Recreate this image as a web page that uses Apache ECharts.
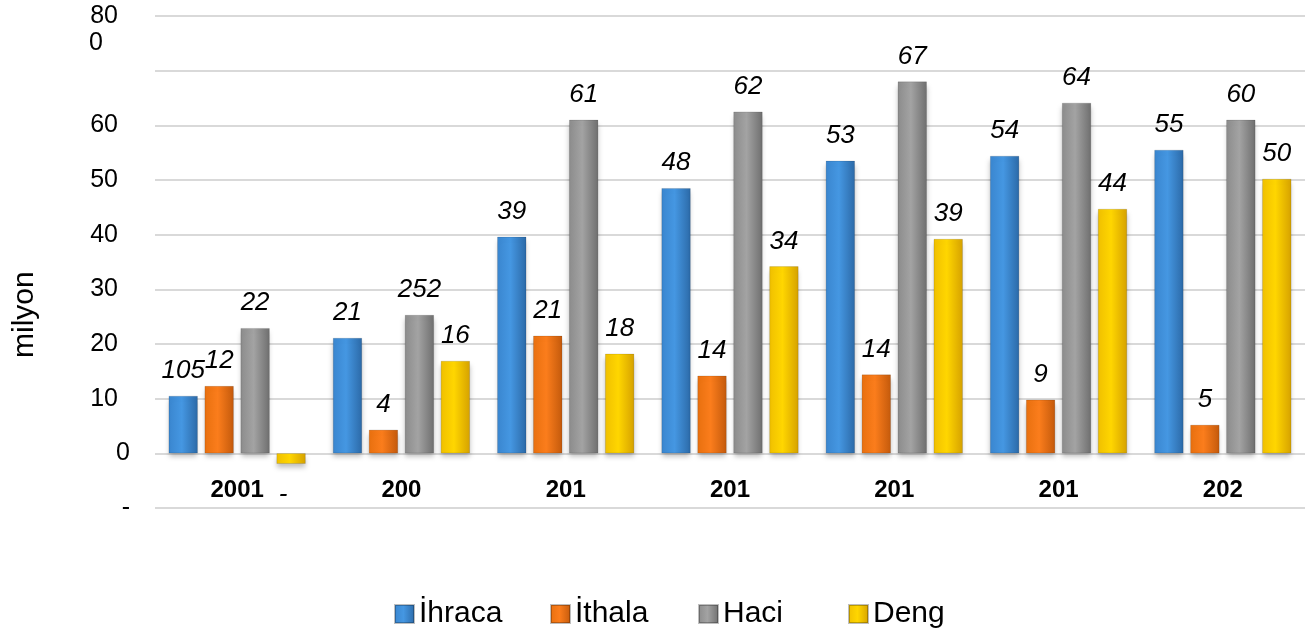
<!DOCTYPE html>
<html>
<head>
<meta charset="utf-8">
<script src="https://cdn.jsdelivr.net/npm/echarts@6/dist/echarts.min.js"></script>
<style>
  html, body { margin: 0; padding: 0; background: #fff; }
  #chart { width: 1310px; height: 632px; }
</style>
</head>
<body>
<div id="chart"></div>
<script>
// kategoriler (orijinalde kesik görünüyor)
const categories = ['2001', '200', '201', '201', '201', '201', '202']
const seriesNames = ['İhraca', 'İthala', 'Haci', 'Deng']

// değerler (milyon)
const ihraca = [10.5, 21.1, 39.6, 48.5, 53.5, 54.4, 55.5]
const ithala = [12.3, 4.3, 21.5, 14.2, 14.4, 9.8, 5.2]
const haci = [22.9, 25.3, 61.0, 62.5, 68.0, 64.1, 61.0]
const deng = [-1.9, 16.9, 18.2, 34.2, 39.2, 44.7, 50.2]

// çubuk etiketleri
const ihracaLabels = ['105', '21', '39', '48', '53', '54', '55']
const ithalaLabels = ['12', '4', '21', '14', '14', '9', '5']
const haciLabels = ['22', '252', '61', '62', '67', '64', '60']
const dengLabels = ['-', '16', '18', '34', '39', '44', '50']

// y ekseni etiketleri (-10 .. 80)
const yTickLabels = ['-', '0', '10', '20', '30', '40', '50', '60', '', '80\n0']

const font = "'Liberation Sans', Arial, sans-serif"
const chart = echarts.init(document.getElementById('chart'))

const grad = (a, b, c) =>
	new echarts.graphic.LinearGradient(0, 0, 1, 0, [
		{ offset: 0, color: a },
		{ offset: 0.45, color: b },
		{ offset: 1, color: c },
	])

const colors = [
	grad('#3a86cf', '#4597e2', '#2c6aa8'),
	grad('#e8700f', '#fb7d1c', '#c45a0c'),
	grad('#8c8c8c', '#a3a3a3', '#6f6f6f'),
	grad('#f0c000', '#ffd600', '#d6a200'),
]

const makeSeries = (name, values, labels, idx) => ({
	name: name,
	type: 'bar',
	barWidth: 29,
	barGap: '24%',
	itemStyle: {
		color: colors[idx],
		borderColor: 'rgba(0,0,0,0.25)',
		borderWidth: 0.5,
		shadowColor: 'rgba(0,0,0,0.25)',
		shadowBlur: 5,
		shadowOffsetY: 4,
	},
	label: {
		show: true,
		position: 'top',
		distance: 12,
		fontFamily: font,
		fontSize: 26,
		fontStyle: 'italic',
		color: '#000',
		formatter: (p) => labels[p.dataIndex],
	},
	data: values.map((v) =>
		v < 0
			? { value: v, label: { position: 'bottom', distance: 18, offset: [-8, 0] } }
			: v,
	),
})

const legendLeft = [389, 545, 693, 843]

const option = {
	animation: false,
	grid: { left: 155, right: 5, top: 16, bottom: 124, containLabel: false, outerBoundsMode: 'none' },
	legend: seriesNames.map((n, i) => ({
		data: [n],
		left: legendLeft[i],
		top: 594,
		icon: 'rect',
		itemWidth: 19,
		itemHeight: 18,
		itemGap: 8,
		textStyle: { fontFamily: font, fontSize: 30, color: '#000' },
	})),
	xAxis: {
		type: 'category',
		data: categories,
		axisLine: { show: false },
		axisTick: { show: false },
		axisLabel: {
			// etiketler sıfır çizgisinin altında, -10 çizgisinin üstünde
			margin: -30,
			fontFamily: font,
			fontSize: 24,
			fontWeight: 'bold',
			color: '#000',
		},
	},
	yAxis: {
		type: 'value',
		min: -10,
		max: 80,
		interval: 10,
		axisLine: { show: false },
		axisTick: { show: false },
		splitLine: { lineStyle: { color: '#d9d9d9', width: 2 } },
		axisLabel: {
			margin: 25,
			align: 'right',
			fontFamily: font,
			fontSize: 25,
			color: '#000',
			formatter: (v) => {
				const t = yTickLabels[Math.round((v + 10) / 10)]
				if (t === undefined || t === '') return ''
				if (t.indexOf('\n') >= 0) {
					const parts = t.split('\n')
					return '{e| }\n{n|' + parts[0] + '}\n{w|' + parts[1] + '}'
				}
				return t.length > 1 ? '{n|' + t + '}' : t
			},
			rich: {
				e: { fontSize: 25, lineHeight: 27, fontFamily: font },
				n: { fontSize: 25, lineHeight: 27, padding: [0, 12, 0, 0], fontFamily: font, color: '#000' },
				w: { fontSize: 25, lineHeight: 27, padding: [0, 27, 0, 0], fontFamily: font, color: '#000' },
			},
		},
	},
	graphic: [
		{
			type: 'text',
			x: 10,
			y: 358,
			rotation: Math.PI / 2,
			style: {
				text: 'milyon',
				fontFamily: font,
				fontSize: 30,
				fill: '#000',
			},
		},
	],
	series: [
		makeSeries(seriesNames[0], ihraca, ihracaLabels, 0),
		makeSeries(seriesNames[1], ithala, ithalaLabels, 1),
		makeSeries(seriesNames[2], haci, haciLabels, 2),
		makeSeries(seriesNames[3], deng, dengLabels, 3),
	],
}

chart.setOption(option)
</script>
</body>
</html>
